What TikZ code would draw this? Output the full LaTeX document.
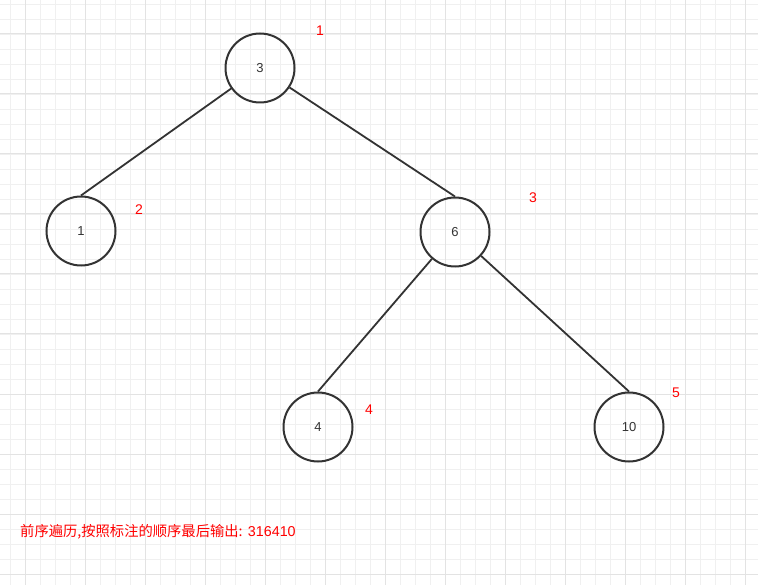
\documentclass[tikz,border=0pt]{standalone}
\usepackage{fontspec}
\setmainfont{Liberation Sans}
\newfontfamily\cjk{Noto Sans CJK SC}
\begin{document}
\begin{tikzpicture}[x=1pt,y=-1pt,
  treenode/.style={circle,draw=black!80,line width=2pt,minimum size=69pt,inner sep=0pt,font=\fontsize{13}{15}\selectfont,text=black!80},
  edge/.style={draw=black!80,line width=1.8pt},
  order/.style={text=red,font=\fontsize{14}{16}\selectfont,inner sep=0pt},
  minorgrid/.style={draw=black!6,line width=0.9pt},
  majorgrid/.style={draw=black!11,line width=1pt}]
\useasboundingbox[fill=white] (0,0) rectangle (758,585);
% grid
\foreach \x in {10,25,...,758} \draw[minorgrid] (\x,0) -- (\x,585);
\foreach \y in {4,19,...,585} \draw[minorgrid] (0,\y) -- (758,\y);
\foreach \x in {25,85,...,758} \draw[majorgrid] (\x,0) -- (\x,585);
\foreach \y in {34,94,...,585} \draw[majorgrid] (0,\y) -- (758,\y);
% nodes
\node[treenode] (n3) at (260,68) {3};
\node[treenode] (n1) at (81,231) {1};
\node[treenode] (n6) at (455,232) {6};
\node[treenode] (n4) at (318,427) {4};
\node[treenode] (n10) at (629,427) {10};
% edges
\draw[edge] (n3) -- (n1.north);
\draw[edge] (n3) -- (n6.north);
\draw[edge] (n6) -- (n4.north);
\draw[edge] (n6) -- (n10.north);
% order labels
\node[order] (o1) at (320,31) {1};
\node[order] (o2) at (139,210) {2};
\node[order] (o3) at (533,198) {3};
\node[order] (o4) at (369,410) {4};
\node[order] (o5) at (676,393) {5};
\node[text=red,anchor=west,inner sep=0pt,font=\fontsize{14.3}{16}\selectfont] (cap) at (20,532) {{\cjk 前序遍历,按照标注的顺序最后输出:} 316410};
\end{tikzpicture}
\end{document}
